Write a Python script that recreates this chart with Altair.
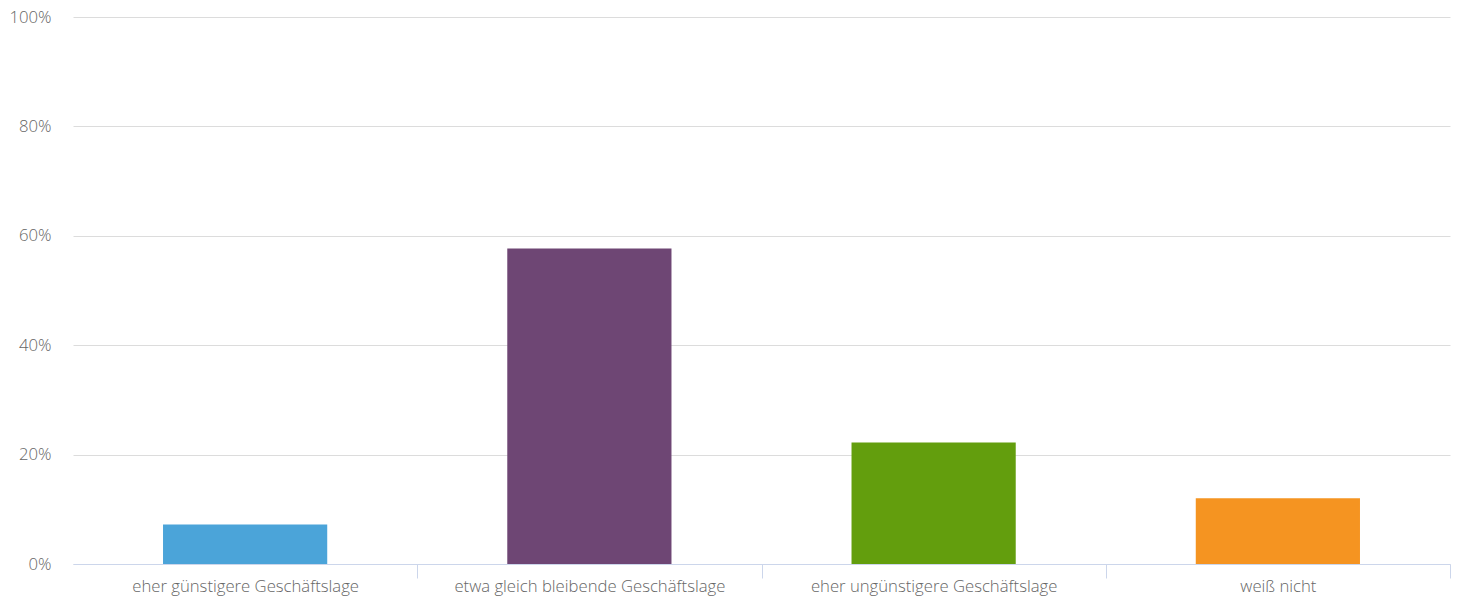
import altair as alt
import pandas as pd

categories = [
    "eher günstigere Geschäftslage",
    "etwa gleich bleibende Geschäftslage",
    "eher ungünstigere Geschäftslage",
    "weiß nicht",
]
shares = [0.072, 0.577, 0.222, 0.120]
colors = ["#4BA4D9", "#6E4674", "#639E0D", "#F59421"]
y_ticks = [0, 0.2, 0.4, 0.6, 0.8, 1.0]

df = pd.DataFrame({"Kategorie": categories, "Anteil": shares})

FONT = "Open Sans"
LABEL_SIZE = 16.7

bars = alt.Chart(df).mark_bar(width=alt.RelativeBandSize(0.477)).encode(
    x=alt.X(
        "Kategorie:N",
        sort=categories,
        title=None,
        scale=alt.Scale(paddingInner=0, paddingOuter=0),
        axis=alt.Axis(
            labelAngle=0,
            labelFont=FONT,
            labelFontSize=LABEL_SIZE,
            labelFontWeight=300,
            labelColor="#666666",
            labelPadding=0,
            labelLimit=400,
            domainColor="#ccd6eb",
            tickColor="#ccd6eb",
            tickSize=14,
            tickBand="extent",
            # hide the extra boundary tick at the left end of the axis
            tickOpacity={"condition": {"test": "datum.extra", "value": 0}, "value": 1},
            grid=False,
        ),
    ),
    y=alt.Y(
        "Anteil:Q",
        title=None,
        scale=alt.Scale(domain=[0, 1], nice=False),
        axis=alt.Axis(
            values=y_ticks,
            format=".0%",
            labelFont=FONT,
            labelFontSize=LABEL_SIZE,
            labelFontWeight=300,
            labelColor="#666666",
            labelPadding=22,
            domain=False,
            ticks=False,
            gridColor="#dcdcdc",
            gridWidth=1,
        ),
    ),
    color=alt.Color(
        "Kategorie:N",
        sort=categories,
        scale=alt.Scale(domain=categories, range=colors),
        legend=None,
    ),
)

chart = bars.properties(
    width=1377,
    height=547,
    autosize=alt.AutoSizeParams(type="none"),
    padding={"left": 73, "top": 17, "right": 11, "bottom": 35},
).configure(
    background="white",
    view=alt.ViewConfig(stroke=None),
)

chart.save("out.html", embed_options={"renderer": "svg", "actions": False})
